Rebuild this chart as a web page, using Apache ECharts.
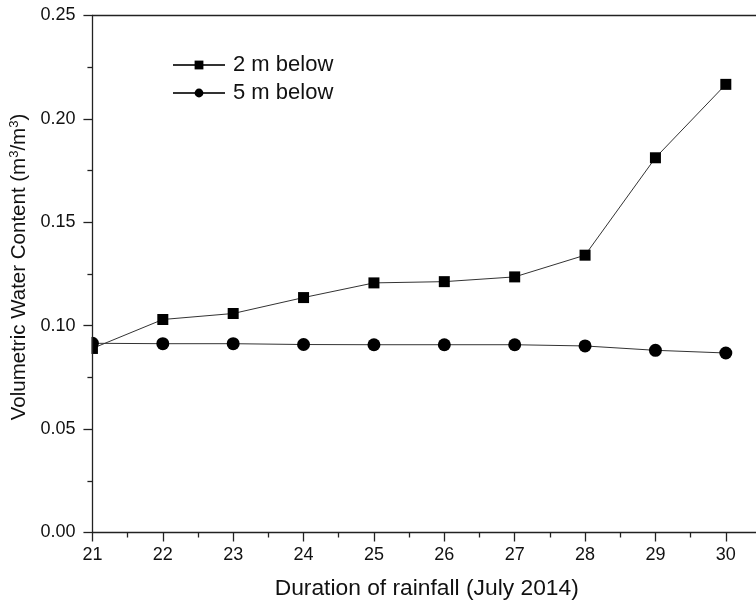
<!DOCTYPE html>
<html>
<head>
<meta charset="utf-8">
<script src="https://cdn.jsdelivr.net/npm/echarts@6/dist/echarts.min.js"></script>
<style>
  html, body { margin: 0; padding: 0; background: #fff; overflow: hidden; }
  /* the chart frame runs slightly past the right edge of the window */
  #chart { width: 764px; height: 606px; }
</style>
</head>
<body>
<div id="chart"></div>
<script>
// Days of July 2014
const days = [21, 22, 23, 24, 25, 26, 27, 28, 29, 30];
// Volumetric water content (m3/m3) by sensor depth
const below2m = [0.089, 0.103, 0.1059, 0.1136, 0.1207, 0.1213, 0.1236, 0.1341, 0.1812, 0.2167];
const below5m = [0.0915, 0.0913, 0.0913, 0.0909, 0.0908, 0.0908, 0.0908, 0.0902, 0.0881, 0.0868];
const seriesNames = ['2 m below', '5 m below'];
const yTicks = [0, 0.05, 0.10, 0.15, 0.20, 0.25];

const FONT = 'Liberation Sans, Arial, sans-serif';
const GRID_LEFT = 92;
const AXIS_COLOR = '#222';

const chart = echarts.init(document.getElementById('chart'), null, { renderer: 'canvas' });

const pairs = arr => days.map((d, i) => [d, arr[i]]);

chart.setOption({
  animation: false,
  backgroundColor: '#fff',
  textStyle: { fontFamily: FONT },
  grid: { left: GRID_LEFT, right: 0, top: 15.5, bottom: 73.5, containLabel: false },
  legend: {
    orient: 'vertical',
    left: 167,
    top: 49,
    itemWidth: 52,
    itemHeight: 11,
    itemGap: 6,
    data: seriesNames,
    textStyle: { fontSize: 22, color: '#111', fontFamily: FONT, padding: [0, 0, 0, 3] }
  },
  // white mask left of the y axis so markers sitting on the axis are cut by the frame
  graphic: [{
    type: 'rect',
    left: 0, top: 15,
    shape: { width: GRID_LEFT - 0.5, height: 518 },
    style: { fill: '#fff' },
    z: 5
  }],
  xAxis: [{
    type: 'value',
    min: 21,
    max: 30.5,
    interval: 1,
    z: 10,
    name: 'Duration of rainfall (July 2014)',
    nameLocation: 'middle',
    nameGap: 45,
    nameTextStyle: { fontSize: 22.8, color: '#111', fontFamily: FONT },
    axisLine: { lineStyle: { color: AXIS_COLOR, width: 1.3 } },
    axisTick: { length: 9, lineStyle: { color: AXIS_COLOR, width: 1.3 } },
    minorTick: { show: true, splitNumber: 2, length: 5, lineStyle: { color: AXIS_COLOR, width: 1.3 } },
    axisLabel: {
      fontSize: 18, color: '#111', margin: 14, fontFamily: FONT,
      formatter: v => (Math.abs(v - Math.round(v)) < 1e-6 && days.includes(Math.round(v))) ? String(Math.round(v)) : ''
    },
    splitLine: { show: false }
  }, {
    type: 'value',
    position: 'top',
    min: 21,
    max: 30.5,
    z: 10,
    axisLine: { show: true, onZero: false, lineStyle: { color: AXIS_COLOR, width: 1.3 } },
    axisTick: { show: false },
    axisLabel: { show: false },
    splitLine: { show: false }
  }],
  yAxis: {
    type: 'value',
    min: yTicks[0],
    max: yTicks[yTicks.length - 1],
    interval: 0.05,
    z: 10,
    name: '{a|Volumetric Water Content (m}{s|3}{a|/m}{s|3}{a|)}',
    nameLocation: 'middle',
    nameGap: 62,
    nameTextStyle: {
      fontSize: 20.5, color: '#111', fontFamily: FONT, padding: [0, 0, 0, 14],
      rich: {
        a: { fontSize: 20.5, color: '#111', fontFamily: FONT },
        s: { fontSize: 13, color: '#111', fontFamily: FONT, padding: [0, 0, 9, 0] }
      }
    },
    axisLine: { show: true, lineStyle: { color: AXIS_COLOR, width: 1.3 } },
    axisTick: { show: true, length: 9, lineStyle: { color: AXIS_COLOR, width: 1.3 } },
    minorTick: { show: true, splitNumber: 2, length: 5, lineStyle: { color: AXIS_COLOR, width: 1.3 } },
    axisLabel: { fontSize: 18, color: '#111', margin: 17, fontFamily: FONT, formatter: v => v.toFixed(2) },
    splitLine: { show: false }
  },
  series: [{
    name: seriesNames[0],
    type: 'line',
    data: pairs(below2m),
    symbol: 'rect',
    symbolSize: 11,
    itemStyle: { color: '#000' },
    lineStyle: { color: '#333', width: 1 },
    z: 2
  }, {
    name: seriesNames[1],
    type: 'line',
    data: pairs(below5m),
    symbol: 'circle',
    symbolSize: 13,
    itemStyle: { color: '#000' },
    lineStyle: { color: '#333', width: 1 },
    z: 3
  }]
});
</script>
</body>
</html>
